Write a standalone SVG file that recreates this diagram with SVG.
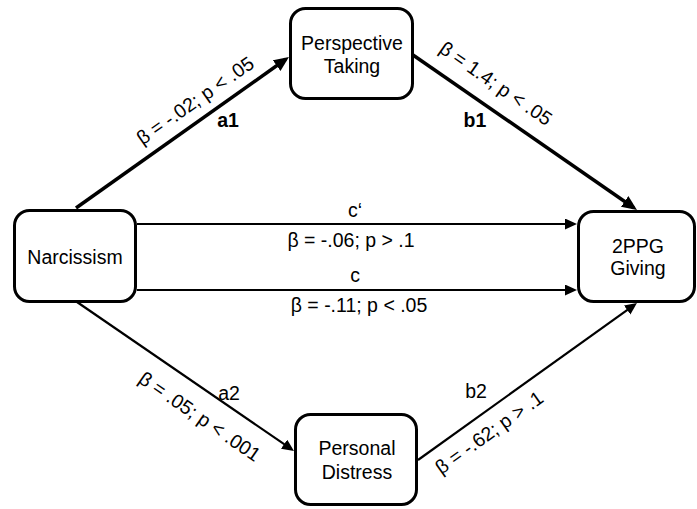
<svg xmlns="http://www.w3.org/2000/svg" width="697" height="509" viewBox="0 0 697 509">
<style>
.box{fill:#fff;stroke:#000;stroke-width:3}
.t{font-family:"Liberation Sans",Arial,sans-serif;font-size:19.5px;fill:#000;text-anchor:middle}
.b{font-weight:bold}
.thick{stroke:#000;stroke-width:3.5;fill:none}
.thin{stroke:#000;stroke-width:2.2;fill:none}
</style>
<defs>
<marker id="big" markerUnits="userSpaceOnUse" markerWidth="16" markerHeight="14" refX="11" refY="6.5" orient="auto" viewBox="0 0 16 14">
<path d="M0,0 L15,6.5 L0,13 z" fill="#000"/>
</marker>
<marker id="small" markerUnits="userSpaceOnUse" markerWidth="13" markerHeight="12" refX="8" refY="5.5" orient="auto" viewBox="0 0 13 12">
<path d="M0,0 L12,5.5 L0,11 z" fill="#000"/>
</marker>
</defs>
<rect width="697" height="509" fill="#fff"/>
<g id="connectors">
<line class="thick" x1="76" y1="208" x2="285.7" y2="59.3" marker-end="url(#big)"/>
<line class="thick" x1="413" y1="55" x2="633.7" y2="207.7" marker-end="url(#big)"/>
<line class="thin" x1="137" y1="224" x2="573" y2="224" marker-end="url(#small)"/>
<line class="thin" x1="137" y1="290" x2="573" y2="290" marker-end="url(#small)"/>
<line class="thin" x1="77" y1="302" x2="290.7" y2="448.7" marker-end="url(#small)"/>
<line class="thin" x1="418" y1="460" x2="633.7" y2="305.3" marker-end="url(#small)"/>
<text class="t" transform="translate(199,106) rotate(-35)">β = -.02; p &lt; .05</text>
<text class="t b" x="228" y="127">a1</text>
<text class="t" transform="translate(492,89) rotate(34.7)">β = 1.4; p &lt; .05</text>
<text class="t b" x="475" y="127">b1</text>
<text class="t" x="355" y="217">c&#8216;</text>
<text class="t" x="351" y="247">β = -.06; p &gt; .1</text>
<text class="t" x="355" y="282">c</text>
<text class="t" x="359" y="312">β = -.11; p &lt; .05</text>
<text class="t" transform="translate(196,422) rotate(34.5)">β = .05; p &lt; .001</text>
<text class="t" x="229" y="400">a2</text>
<text class="t" transform="translate(493,438) rotate(-35.5)">β = -.62; p &gt; .1</text>
<text class="t" x="476" y="398">b2</text>
</g>
<g id="narcissism">
<rect class="box" x="14.5" y="210.5" width="121" height="91" rx="15"/>
<text class="t" x="75" y="264">Narcissism</text>
</g>
<g id="perspective-taking">
<rect class="box" x="290.5" y="8.5" width="122" height="90" rx="15"/>
<text class="t" x="352" y="50">Perspective</text>
<text class="t" x="352" y="73">Taking</text>
</g>
<g id="giving">
<rect class="box" x="578.5" y="211.5" width="116" height="90" rx="15"/>
<text class="t" x="638" y="253">2PPG</text>
<text class="t" x="638" y="275">Giving</text>
</g>
<g id="personal-distress">
<rect class="box" x="295.5" y="414.5" width="121" height="90" rx="15"/>
<text class="t" x="357" y="455">Personal</text>
<text class="t" x="357" y="479">Distress</text>
</g>
</svg>
